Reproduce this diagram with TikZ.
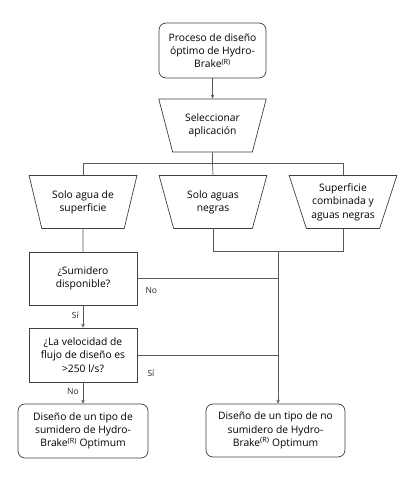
\documentclass[tikz,border=0pt]{standalone}
\usepackage{fontspec}
\setmainfont{Open Sans}
\usetikzlibrary{shapes.geometric, arrows.meta, positioning, calc}

\tikzset{
  box/.style={rectangle, draw=black!75, line width=0.7pt, align=center, inner sep=1pt,
    font=\fontsize{10.3}{13.3}\selectfont},
  roundbox/.style={box, rounded corners=7pt},
  trapbox/.style={trapezium, shape border rotate=180, trapezium angle=68,
    trapezium stretches=true, draw=black!75, line width=0.7pt, align=center, inner sep=0pt,
    minimum width=108pt, minimum height=53pt, font=\fontsize{10.3}{13.3}\selectfont},
  conn/.style={draw=black!65, line width=0.7pt},
  arr/.style={conn, -{Stealth[length=4pt, width=3.5pt]}},
  lbl/.style={font=\fontsize{8.5}{9}\selectfont, text=black!85, inner sep=1pt}
}

\begin{document}
\begin{tikzpicture}[x=1pt, y=-1pt]
\useasboundingbox (0,0) rectangle (412,481);

% start and application choice
\node[roundbox, minimum width=107pt, minimum height=55pt] (start) at (212.5,50.5)
  {Proceso de diseño\\óptimo de Hydro-\\Brake\textsuperscript{(R)}};
\node[trapbox] (sel) at (212.5,125.5) {Seleccionar\\aplicación};

% three applications
\node[trapbox] (agua) at (83,202) {Solo agua de\\superficie};
\node[trapbox] (negras) at (213,202) {Solo aguas\\negras};
\node[trapbox] (comb) at (343,202) {Superficie\\combinada y\\aguas negras};

% questions
\node[box, minimum width=108pt, minimum height=53pt] (sum) at (83,278.5)
  {¿Sumidero\\disponible?};
\node[box, minimum width=108pt, minimum height=54pt] (vel) at (83,355)
  {¿La velocidad de\\flujo de diseño es\\>250 l/s?};

% results
\node[roundbox, minimum width=130pt, minimum height=54pt] (fin1) at (83,431)
  {Diseño de un tipo de\\sumidero de Hydro-\\Brake\textsuperscript{(R)} Optimum};
\node[roundbox, minimum width=139pt, minimum height=53pt] (fin2) at (275.5,430.5)
  {Diseño de un tipo de no\\sumidero de Hydro-\\Brake\textsuperscript{(R)} Optimum};

\coordinate (bus) at (212.5,163);
\coordinate (join) at (278,251);

% connectors
\draw[arr] (start) -- (sel);
\draw[conn] (sel.south) -- (bus) -- (negras.north);
\draw[conn] (agua.north) -- (agua.north |- bus) -- (comb.north |- bus) -- (comb.north);
\draw[conn] (agua.south) -- (sum.north);
\draw[conn] (negras.south) -- (negras.south |- join) -- (comb.south |- join) -- (comb.south);
\draw[arr] (join) -- (join |- fin2.north);

\draw[conn] (sum.east) -- (sum.east -| join);
\node[lbl, anchor=north west] (no1) at ($(sum.east)+(7,8)$) {No};
\draw[arr] (sum.south) -- (vel.north) node[lbl, pos=0.45, left=3pt] (si1) {Sí};
\draw[conn] (vel.east) -- (vel.east -| join);
\node[lbl, anchor=north west] (si2) at ($(vel.east)+(9,14)$) {Sí};
\draw[arr] (vel.south) -- (fin1.north) node[lbl, pos=0.45, left=3pt] (no2) {No};
\end{tikzpicture}
\end{document}
